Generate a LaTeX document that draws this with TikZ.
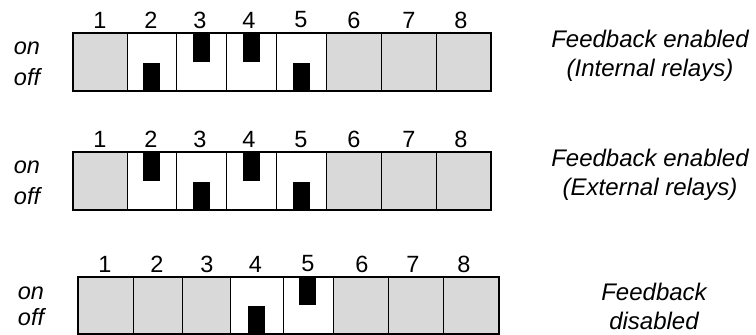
\documentclass[tikz,border=0pt]{standalone}
\usepackage{fontspec}
\setmainfont{Liberation Sans}
\usepackage{tikz}
\definecolor{swgray}{HTML}{D9D9D9}
\tikzset{
  frame/.style={draw=black,line width=1.8pt},
  divider/.style={draw=black,line width=1pt},
  knob/.style={fill=black},
  swnum/.style={inner sep=0pt,font=\fontsize{23.5}{28}\selectfont},
  onoff/.style={inner sep=0pt,font=\fontsize{23.5}{28}\selectfont\itshape},
  caption/.style={inner sep=0pt,align=center,font=\fontsize{24}{29.5}\selectfont\itshape}
}

\begin{document}
\begin{tikzpicture}[x=1pt,y=-1pt]
  \useasboundingbox (0,0) rectangle (756,335);
  % Row 1: feedback enabled, internal relays
  \fill[swgray] (73,33) rectangle (127,91);
  \fill[swgray] (326,33) rectangle (491,91);
  \foreach \c/\ya/\yb in {151.5/62.5/91,201/33/61.5,251/33/61.5,301/62.5/91}
    \fill[knob] ({\c-8.5},\ya) rectangle ({\c+8.5},\yb);
  \foreach \x in {127,176,226,276,326,381,436}
    \draw[divider] (\x,33) -- (\x,91);
  \draw[frame] (73,33) rectangle (491,91);
  \foreach \n/\x in {1/100,2/151,3/200,4/249,5/301,6/354,7/409,8/461}
    \node[swnum] (a\n) at (\x,20) {\n};
  \node[onoff] (aon) at (27,48) {on};
  \node[onoff] (aoff) at (27,77) {off};
  \node[caption] (acap) at (650,56) {Feedback enabled\\(Internal relays)};
  % Row 2: feedback enabled, external relays
  \fill[swgray] (73,152) rectangle (127,210);
  \fill[swgray] (326,152) rectangle (491,210);
  \foreach \c/\ya/\yb in {151.5/152/180.5,201/181.5/210,251/152/180.5,301/181.5/210}
    \fill[knob] ({\c-8.5},\ya) rectangle ({\c+8.5},\yb);
  \foreach \x in {127,176,226,276,326,381,436}
    \draw[divider] (\x,152) -- (\x,210);
  \draw[frame] (73,152) rectangle (491,210);
  \foreach \n/\x in {1/100,2/151,3/200,4/249,5/301,6/354,7/409,8/461}
    \node[swnum] (b\n) at (\x,139.5) {\n};
  \node[onoff] (bon) at (27,167) {on};
  \node[onoff] (boff) at (27,196) {off};
  \node[caption] (bcap) at (650,175) {Feedback enabled\\(External relays)};
  % Row 3: feedback disabled
  \fill[swgray] (78,277) rectangle (230,334);
  \fill[swgray] (333,277) rectangle (499,334);
  \foreach \c/\ya/\yb in {256/305.5/334,307.5/277/305}
    \fill[knob] ({\c-8.5},\ya) rectangle ({\c+8.5},\yb);
  \foreach \x in {133,182,230,283,333,388,443}
    \draw[divider] (\x,277) -- (\x,334);
  \draw[frame] (78,277) rectangle (499,334);
  \foreach \n/\x in {1/105,2/157,3/207,4/255.5,5/308,6/362,7/413,8/464}
    \node[swnum] (c\n) at (\x,264) {\n};
  \node[onoff] (con) at (31,293) {on};
  \node[onoff] (coff) at (31,317) {off};
  \node[caption] (ccap) at (654,306.5) {Feedback\\disabled};
\end{tikzpicture}
\end{document}
